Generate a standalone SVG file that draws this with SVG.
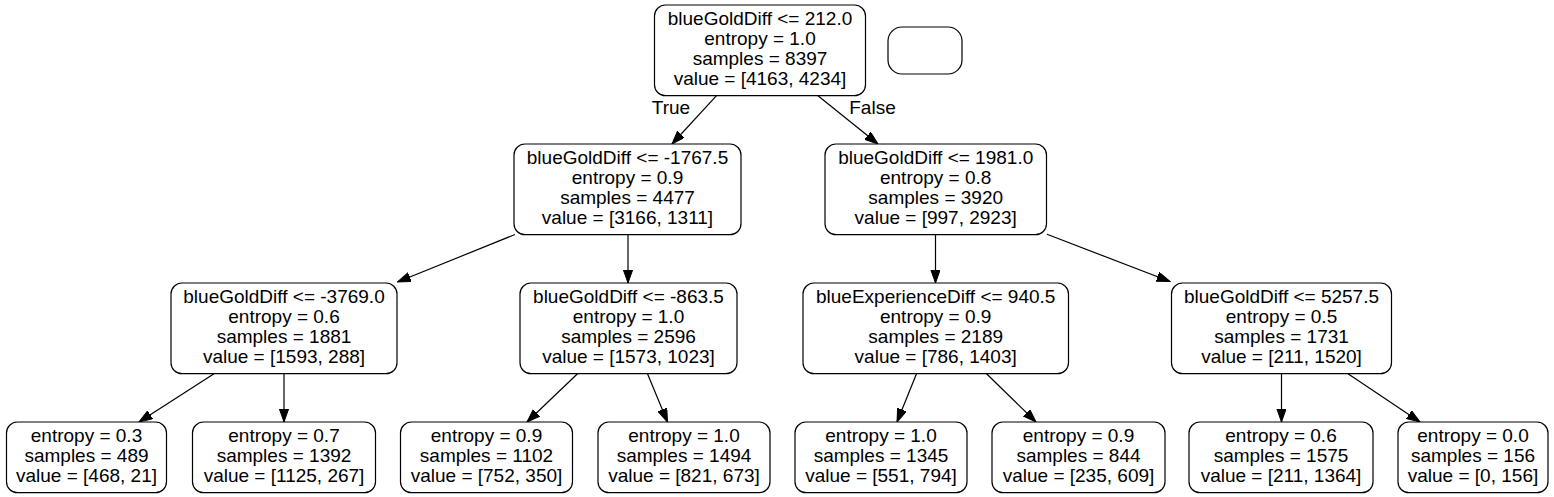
<svg xmlns="http://www.w3.org/2000/svg" width="1554" height="497" viewBox="0 0 1554 497">
<style>
.n rect{fill:#fff;stroke:#000;stroke-width:1.2}
text{font-family:"Liberation Sans",Arial,Helvetica,sans-serif;font-size:19px;fill:#000;text-anchor:middle}
.e line{stroke:#000;stroke-width:1.2;marker-end:url(#ah)}
</style>
<defs>
<marker id="ah" markerUnits="userSpaceOnUse" markerWidth="14" markerHeight="10" refX="13.3" refY="4.7" orient="auto">
<path d="M0,0 L13.3,4.7 L0,9.4 Z" fill="#000" stroke="#000" stroke-width="1"/>
</marker>
</defs>
<rect width="1554" height="497" fill="#fff"/>
<g id="edges" class="e">
<line x1="716.5" y1="95.7" x2="672" y2="144"/>
<line x1="818" y1="95.7" x2="878" y2="144"/>
<line x1="515" y1="234.5" x2="397.5" y2="282"/>
<line x1="628" y1="234.7" x2="628" y2="283"/>
<line x1="935.5" y1="234.7" x2="935.5" y2="283"/>
<line x1="1047" y1="234.3" x2="1170" y2="281.5"/>
<line x1="214" y1="373.7" x2="139" y2="422"/>
<line x1="284" y1="373.7" x2="284" y2="422"/>
<line x1="577.5" y1="373.7" x2="527" y2="422"/>
<line x1="647.5" y1="373.7" x2="667.5" y2="422"/>
<line x1="916.5" y1="373.7" x2="897" y2="422"/>
<line x1="986.5" y1="373.7" x2="1036" y2="422"/>
<line x1="1281.5" y1="373.7" x2="1281.5" y2="422"/>
<line x1="1348" y1="373.7" x2="1420" y2="422"/>
<text x="671" y="113.5">True</text>
<text x="872.5" y="113.5">False</text>
</g>
<g id="root" class="n">
<rect x="654.5" y="5" width="211" height="90.7" rx="11"/>
<text x="760" y="25.3">blueGoldDiff &lt;= 212.0</text>
<text x="760" y="45.3">entropy = 1.0</text>
<text x="760" y="65.3">samples = 8397</text>
<text x="760" y="85.3">value = [4163, 4234]</text>
</g>
<g id="empty" class="n">
<rect x="888" y="27" width="74" height="47" rx="14"/>
</g>
<g id="n1" class="n">
<rect x="514" y="144" width="227" height="90.7" rx="11"/>
<text x="627.5" y="164.3">blueGoldDiff &lt;= -1767.5</text>
<text x="627.5" y="184.3">entropy = 0.9</text>
<text x="627.5" y="204.3">samples = 4477</text>
<text x="627.5" y="224.3">value = [3166, 1311]</text>
</g>
<g id="n2" class="n">
<rect x="825" y="144" width="221.5" height="90.7" rx="11"/>
<text x="935.7" y="164.3">blueGoldDiff &lt;= 1981.0</text>
<text x="935.7" y="184.3">entropy = 0.8</text>
<text x="935.7" y="204.3">samples = 3920</text>
<text x="935.7" y="224.3">value = [997, 2923]</text>
</g>
<g id="a" class="n">
<rect x="171" y="283" width="226" height="90.7" rx="11"/>
<text x="284" y="303.3">blueGoldDiff &lt;= -3769.0</text>
<text x="284" y="323.3">entropy = 0.6</text>
<text x="284" y="343.3">samples = 1881</text>
<text x="284" y="363.3">value = [1593, 288]</text>
</g>
<g id="b" class="n">
<rect x="520" y="283" width="217" height="90.7" rx="11"/>
<text x="628.5" y="303.3">blueGoldDiff &lt;= -863.5</text>
<text x="628.5" y="323.3">entropy = 1.0</text>
<text x="628.5" y="343.3">samples = 2596</text>
<text x="628.5" y="363.3">value = [1573, 1023]</text>
</g>
<g id="c" class="n">
<rect x="803" y="283" width="265.5" height="90.7" rx="11"/>
<text x="935.7" y="303.3">blueExperienceDiff &lt;= 940.5</text>
<text x="935.7" y="323.3">entropy = 0.9</text>
<text x="935.7" y="343.3">samples = 2189</text>
<text x="935.7" y="363.3">value = [786, 1403]</text>
</g>
<g id="d" class="n">
<rect x="1171.5" y="283" width="220" height="90.7" rx="11"/>
<text x="1281.5" y="303.3">blueGoldDiff &lt;= 5257.5</text>
<text x="1281.5" y="323.3">entropy = 0.5</text>
<text x="1281.5" y="343.3">samples = 1731</text>
<text x="1281.5" y="363.3">value = [211, 1520]</text>
</g>
<g id="l1" class="n">
<rect x="6.5" y="422" width="160" height="70.7" rx="11"/>
<text x="86.5" y="442.3">entropy = 0.3</text>
<text x="86.5" y="462.3">samples = 489</text>
<text x="86.5" y="482.3">value = [468, 21]</text>
</g>
<g id="l2" class="n">
<rect x="192.5" y="422" width="183" height="70.7" rx="11"/>
<text x="284" y="442.3">entropy = 0.7</text>
<text x="284" y="462.3">samples = 1392</text>
<text x="284" y="482.3">value = [1125, 267]</text>
</g>
<g id="l3" class="n">
<rect x="400.5" y="422" width="172" height="70.7" rx="11"/>
<text x="486.5" y="442.3">entropy = 0.9</text>
<text x="486.5" y="462.3">samples = 1102</text>
<text x="486.5" y="482.3">value = [752, 350]</text>
</g>
<g id="l4" class="n">
<rect x="598" y="422" width="172" height="70.7" rx="11"/>
<text x="684" y="442.3">entropy = 1.0</text>
<text x="684" y="462.3">samples = 1494</text>
<text x="684" y="482.3">value = [821, 673]</text>
</g>
<g id="l5" class="n">
<rect x="795" y="422" width="172" height="70.7" rx="11"/>
<text x="881" y="442.3">entropy = 1.0</text>
<text x="881" y="462.3">samples = 1345</text>
<text x="881" y="482.3">value = [551, 794]</text>
</g>
<g id="l6" class="n">
<rect x="992" y="422" width="173" height="70.7" rx="11"/>
<text x="1078.5" y="442.3">entropy = 0.9</text>
<text x="1078.5" y="462.3">samples = 844</text>
<text x="1078.5" y="482.3">value = [235, 609]</text>
</g>
<g id="l7" class="n">
<rect x="1189" y="422" width="184" height="70.7" rx="11"/>
<text x="1281" y="442.3">entropy = 0.6</text>
<text x="1281" y="462.3">samples = 1575</text>
<text x="1281" y="482.3">value = [211, 1364]</text>
</g>
<g id="l8" class="n">
<rect x="1398" y="422" width="150" height="70.7" rx="11"/>
<text x="1473" y="442.3">entropy = 0.0</text>
<text x="1473" y="462.3">samples = 156</text>
<text x="1473" y="482.3">value = [0, 156]</text>
</g>
</svg>
